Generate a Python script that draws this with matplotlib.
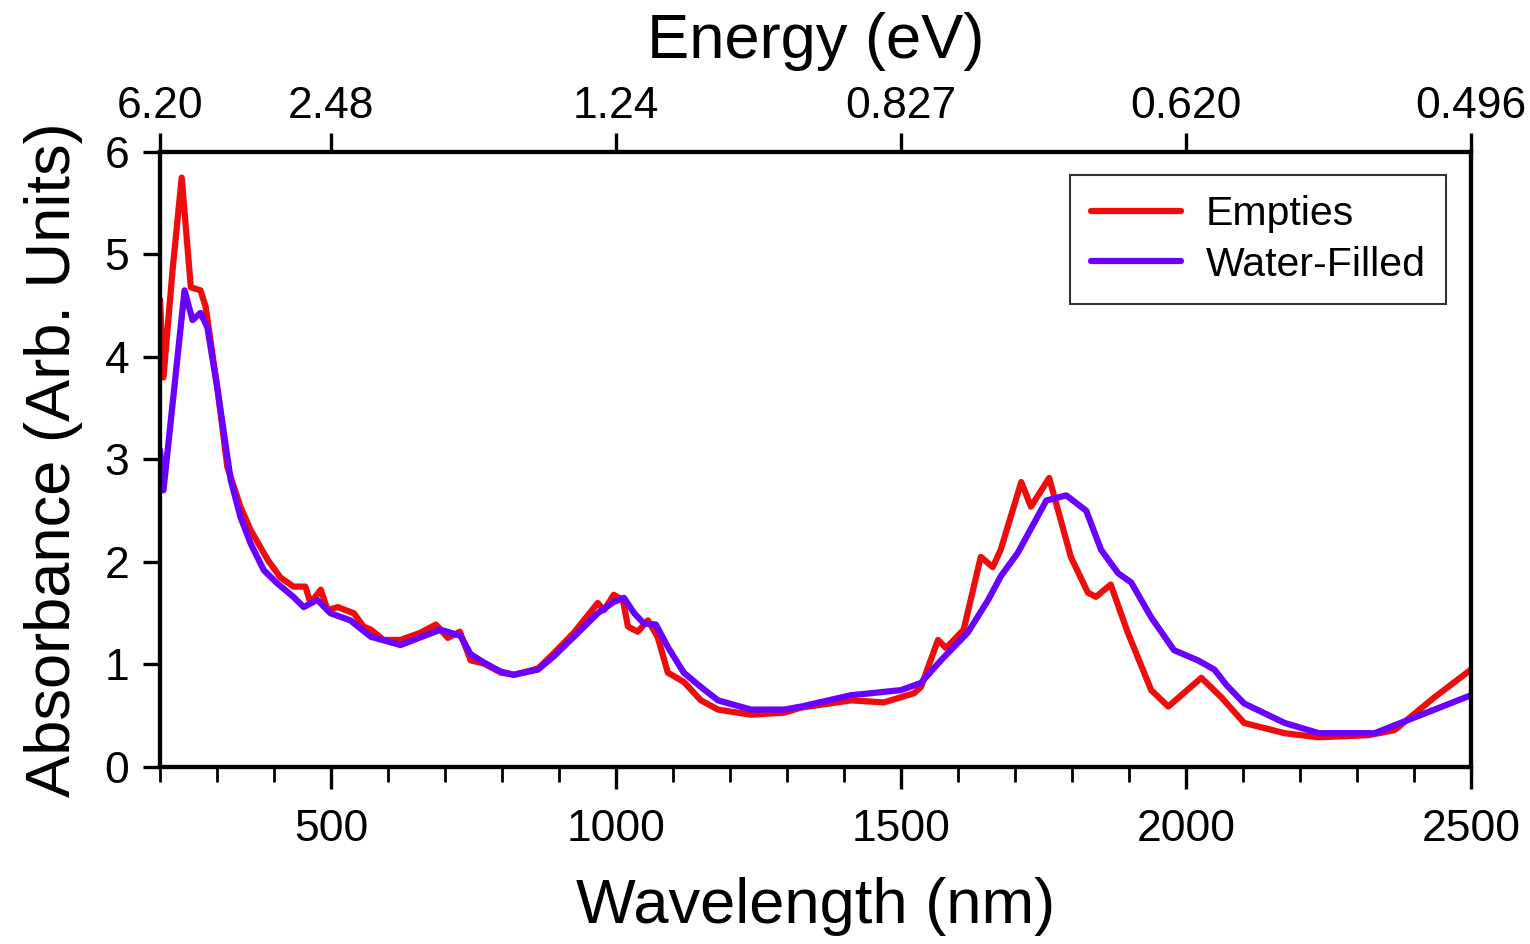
import matplotlib
matplotlib.use('Agg')
import matplotlib.pyplot as plt
from matplotlib.ticker import MultipleLocator

plt.rcParams['font.family'] = ['Liberation Sans', 'DejaVu Sans']

# Empties (red)
wl_empty = [200, 206, 222, 238, 254, 271, 280, 301, 318, 341, 359, 389, 411, 434,
            455, 464, 482, 494, 512, 540, 557, 570, 592, 622, 657, 684, 705, 726,
            745, 768, 798, 821, 863, 891, 926, 968, 979, 996, 1012, 1021, 1038,
            1056, 1073, 1091, 1119, 1149, 1179, 1237, 1295, 1325, 1412, 1470, 1523,
            1535, 1565, 1579, 1610, 1640, 1661, 1675, 1711, 1728, 1760, 1798, 1828,
            1842, 1868, 1898, 1939, 1969, 2027, 2062, 2102, 2173, 2232, 2320, 2366,
            2436, 2500]
abs_empty = [4.56, 3.80, 4.85, 5.75, 4.68, 4.65, 4.49, 3.68, 2.93, 2.54, 2.31, 2.02, 1.85, 1.76,
             1.76, 1.60, 1.73, 1.53, 1.56, 1.50, 1.37, 1.34, 1.24, 1.24, 1.31, 1.39, 1.26, 1.32,
             1.04, 1.01, 0.92, 0.90, 0.96, 1.11, 1.31, 1.60, 1.53, 1.68, 1.63, 1.37, 1.32,
             1.43, 1.27, 0.92, 0.83, 0.65, 0.56, 0.51, 0.53, 0.58, 0.65, 0.63, 0.72,
             0.78, 1.24, 1.16, 1.34, 2.05, 1.95, 2.12, 2.78, 2.54, 2.82, 2.05, 1.70,
             1.66, 1.78, 1.31, 0.75, 0.59, 0.87, 0.68, 0.43, 0.33, 0.29, 0.31, 0.36,
             0.68, 0.95]

# Water-Filled (violet)
wl_water = [200, 206, 225, 243, 257, 271, 283, 301, 324, 341, 359, 382, 406, 434,
            452, 476, 499, 534, 570, 622, 692, 727, 745, 768, 798, 821, 863, 891,
            926, 968, 996, 1014, 1032, 1049, 1070, 1091, 1119, 1149, 1179, 1237,
            1295, 1325, 1412, 1500, 1535, 1570, 1617, 1653, 1675, 1705, 1755, 1790,
            1825, 1851, 1881, 1904, 1939, 1979, 2021, 2050, 2071, 2102, 2173, 2233,
            2331, 2436, 2500]
abs_water = [3.09, 2.70, 3.70, 4.65, 4.36, 4.43, 4.29, 3.68, 2.80, 2.44, 2.18, 1.92, 1.79, 1.66,
             1.56, 1.63, 1.50, 1.43, 1.27, 1.19, 1.34, 1.28, 1.10, 1.02, 0.93, 0.90, 0.95, 1.08,
             1.27, 1.50, 1.61, 1.65, 1.50, 1.40, 1.39, 1.17, 0.92, 0.78, 0.65, 0.56,
             0.56, 0.59, 0.70, 0.75, 0.82, 1.04, 1.31, 1.63, 1.86, 2.09, 2.60, 2.65,
             2.50, 2.12, 1.89, 1.80, 1.46, 1.14, 1.04, 0.95, 0.80, 0.62, 0.43, 0.33,
             0.33, 0.56, 0.70]

top_ticks = [200, 500, 1000, 1500, 2000, 2500]
top_labels = ['6.20', '2.48', '1.24', '0.827', '0.620', '0.496']

fig = plt.figure(figsize=(15.3, 9.44), dpi=100)
ax = fig.add_axes([0.1046, 0.1875, 0.8568, 0.6515])

ax.plot(wl_empty, abs_empty, color='#ee0d0d', lw=4.5, label='Empties',
        solid_joinstyle='round', solid_capstyle='round')
ax.plot(wl_water, abs_water, color='#6a00ff', lw=4.5, label='Water-Filled',
        solid_joinstyle='round', solid_capstyle='round')

ax.set_xlim(200, 2500)
ax.set_ylim(0, 6)
ax.xaxis.set_major_locator(MultipleLocator(500))
ax.xaxis.set_minor_locator(MultipleLocator(100))
ax.yaxis.set_major_locator(MultipleLocator(1))

for s in ax.spines.values():
    s.set_linewidth(3)
ax.tick_params(axis='x', which='major', direction='out', length=16, width=2.4, labelsize=32, pad=14)
ax.tick_params(axis='x', which='minor', direction='out', length=11, width=2.0)
ax.tick_params(axis='y', which='major', direction='out', length=12, width=2.4, labelsize=32, pad=10)

ax.set_xlabel('Wavelength (nm)', fontsize=45.5, labelpad=20)
ax.set_ylabel('Absorbance (Arb. Units)', fontsize=45.5, labelpad=16)

top = ax.twiny()
top.set_xlim(ax.get_xlim())
top.set_xticks(top_ticks)
top.set_xticklabels(top_labels)
top.tick_params(axis='x', direction='out', length=14, width=2.4, labelsize=32, pad=4)
for s in top.spines.values():
    s.set_linewidth(3)
top.set_xlabel('Energy (eV)', fontsize=45.5, labelpad=20)

leg = ax.legend(loc='upper right', fontsize=29.5, frameon=True, fancybox=False,
                edgecolor='black', handlelength=2.2, handletextpad=0.6,
                borderpad=0.5, labelspacing=0.3, borderaxespad=0,
                bbox_to_anchor=(0.981, 0.963))
leg.get_frame().set_linewidth(1.5)

fig.savefig('out.png', dpi=100)
